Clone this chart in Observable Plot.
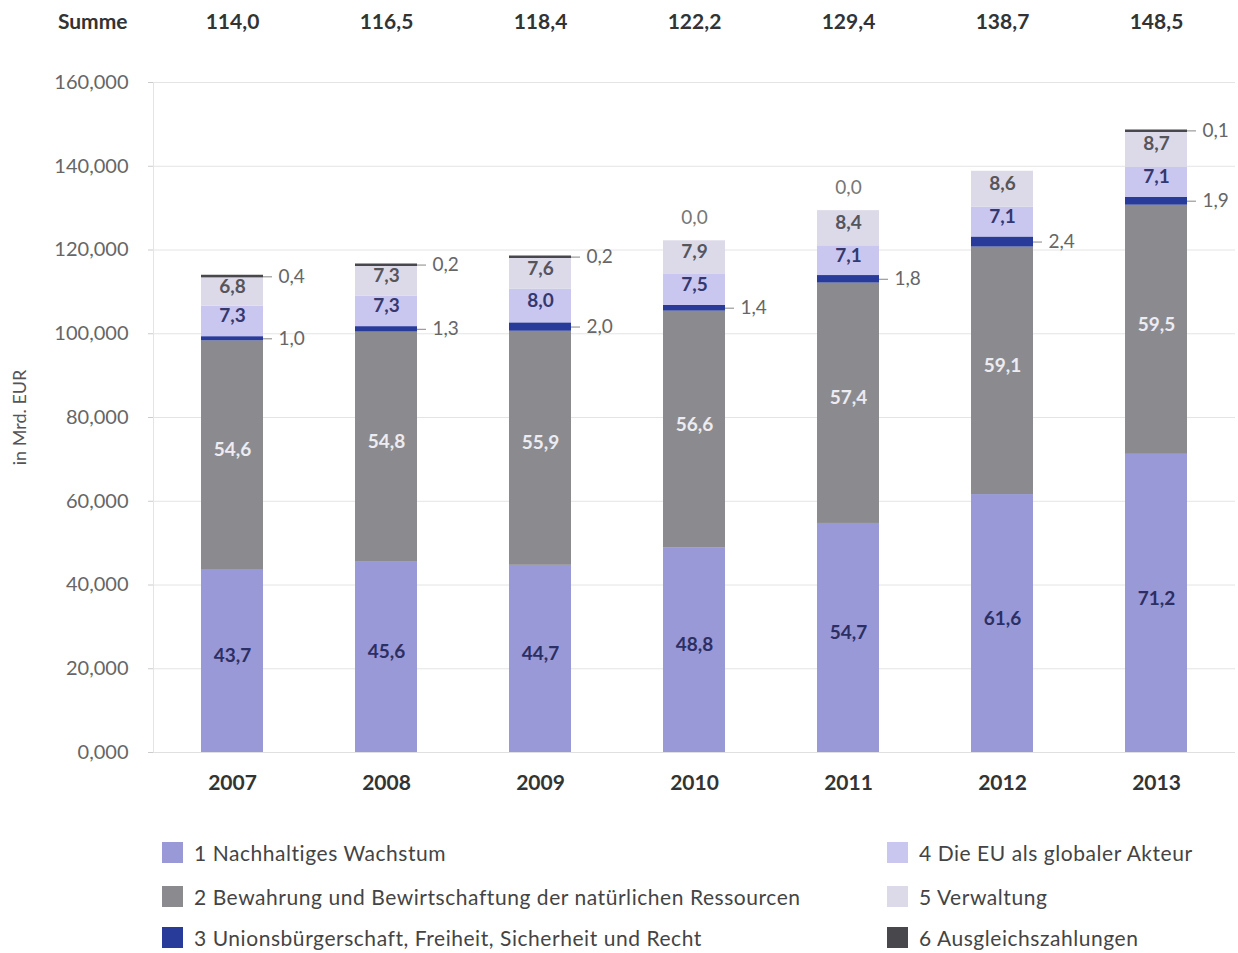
<!DOCTYPE html>
<html><head><meta charset="utf-8">
<script src="https://cdn.jsdelivr.net/npm/d3@7"></script>
<script src="https://cdn.jsdelivr.net/npm/@observablehq/plot@0.6"></script>
<style>
body{margin:0;background:#fff;font-family:Lato,"Open Sans",sans-serif;}
#wrap{position:relative;width:1238px;height:953px;overflow:hidden;}
#legend{position:absolute;left:0;top:0;width:1238px;height:953px;pointer-events:none;}
.item{position:absolute;display:flex;align-items:center;font-size:21px;letter-spacing:0.55px;color:#444;white-space:nowrap;}
.sw{width:21px;height:21px;margin-right:11px;flex:none;}
</style></head><body><div id="wrap"><div id="chart"></div><div id="legend"></div></div>
<script>
const years = ["2007","2008","2009","2010","2011","2012","2013"];
const categories = [
  "1 Nachhaltiges Wachstum",
  "2 Bewahrung und Bewirtschaftung der natürlichen Ressourcen",
  "3 Unionsbürgerschaft, Freiheit, Sicherheit und Recht",
  "4 Die EU als globaler Akteur",
  "5 Verwaltung",
  "6 Ausgleichszahlungen"
];
const colors = ["#9999d8","#8b8b8f","#283a9a","#c9c6f0","#dcdae8","#48484c"];
const s1 = [43.7,45.6,44.7,48.8,54.7,61.6,71.2];
const s2 = [54.6,54.8,55.9,56.6,57.4,59.1,59.5];
const s3 = [1.0,1.3,2.0,1.4,1.8,2.4,1.9];
const s4 = [7.3,7.3,8.0,7.5,7.1,7.1,7.1];
const s5 = [6.8,7.3,7.6,7.9,8.4,8.6,8.7];
const s6 = [0.4,0.2,0.2,0.0,0.0,null,0.1];
const totals = [114.0,116.5,118.4,122.2,129.4,138.7,148.5];
const yTicks = [0,20,40,60,80,100,120,140,160];
const series = [s1,s2,s3,s4,s5,s6];

const de = d3.formatLocale({decimal:",",thousands:".",grouping:[3],currency:["","€"]});
const f1 = de.format(".1f");
const f3 = de.format(".3f");

const rows = [];
years.forEach((yr,i)=>{
  let acc = 0;
  series.forEach((s,c)=>{
    const v = s[i];
    const val = v == null ? 0 : v;
    rows.push({year:yr, cat:categories[c], ci:c, value:val, shown:v != null, y1:acc, y2:acc+val, mid:acc+val/2});
    acc += val;
  });
});
const inside = rows.filter(d=>[0,1,3,4].includes(d.ci));
const right = rows.filter(d=>(d.ci===2) || (d.ci===5 && d.shown && d.value>0));
const above = rows.filter(d=>d.ci===5 && d.shown && d.value===0);
const cat6 = rows.filter(d=>d.ci===5 && d.value>0);
const labelColor = ["#2c2f63","#ececf2","","#34386e","#55555c"];

const plot = Plot.plot({
  width:1238, height:810,
  marginLeft:153, marginRight:3, marginTop:82, marginBottom:58,
  style:{fontFamily:"Lato, 'Open Sans', sans-serif", background:"#fff"},
  x:{domain:years, paddingInner:0.6, paddingOuter:0.3, label:null},
  y:{domain:[0,160]},
  color:{domain:categories, range:colors},
  marks:[
    Plot.gridY(yTicks,{stroke:"#e4e4e4", strokeOpacity:1}),
    Plot.frame({anchor:"left", stroke:"#e4e4e4"}),
    Plot.ruleY([0],{stroke:"#e0e0e0"}),
    Plot.barY(rows,{x:"year", y1:"y1", y2:"y2", fill:"cat"}),
    Plot.tickY(cat6,{x:"year", y:"y2", stroke:colors[5], strokeWidth:2.5}),
    Plot.text(inside,{x:"year", y:"mid", text:d=>f1(d.value), dy:-5, fontSize:19, fontWeight:"bold", fill:d=>labelColor[d.ci]}),
    Plot.tickY(right,{x:"year", y:"mid", dx:62, insetRight:53, stroke:"#9a9a9a", strokeWidth:1.2}),
    Plot.text(right,{x:"year", y:"mid", text:d=>f1(d.value), dx:46, textAnchor:"start", fontSize:19, fill:"#666"}),
    Plot.text(above,{x:"year", y:"y2", text:d=>f1(d.value), dy:-23, fontSize:19, fill:"#777"}),
    Plot.text(years,{x:d=>d, text:(d,i)=>f1(totals[i]), frameAnchor:"top", dy:-68, fontSize:21, fontWeight:"bold", fill:"#333"}),
    Plot.text(["Summe"],{frameAnchor:"top-left", text:d=>d, dx:-26, dy:-68, textAnchor:"end", fontSize:21, fontWeight:"bold", fill:"#333"}),
    Plot.axisY(yTicks,{tickFormat:f3, tickSize:5, tickPadding:20, fontSize:20, fill:"#666", stroke:"#ccc",
      label:"in Mrd. EUR", labelAnchor:"center", labelArrow:"none", labelOffset:140}),
    Plot.axisX({tickSize:0, tickPadding:23, fontSize:21, fontWeight:"bold", fill:"#333", label:null})
  ]
});
document.getElementById("chart").appendChild(plot);
plot.querySelectorAll("g[aria-label='y-axis label'] text").forEach(t=>{t.setAttribute("font-size","18");t.setAttribute("fill","#555");});

const legend = document.getElementById("legend");
const pos = [[162,840],[162,884],[162,925],[887,840],[887,884],[887,925]];
categories.forEach((c,i)=>{
  const it = document.createElement("div");
  it.className = "item";
  it.style.left = pos[i][0]+"px";
  it.style.top = pos[i][1]+"px";
  const sw = document.createElement("span");
  sw.className="sw"; sw.style.background = colors[i];
  const tx = document.createElement("span");
  tx.textContent = c;
  it.appendChild(sw); it.appendChild(tx);
  legend.appendChild(it);
});
</script></body></html>
